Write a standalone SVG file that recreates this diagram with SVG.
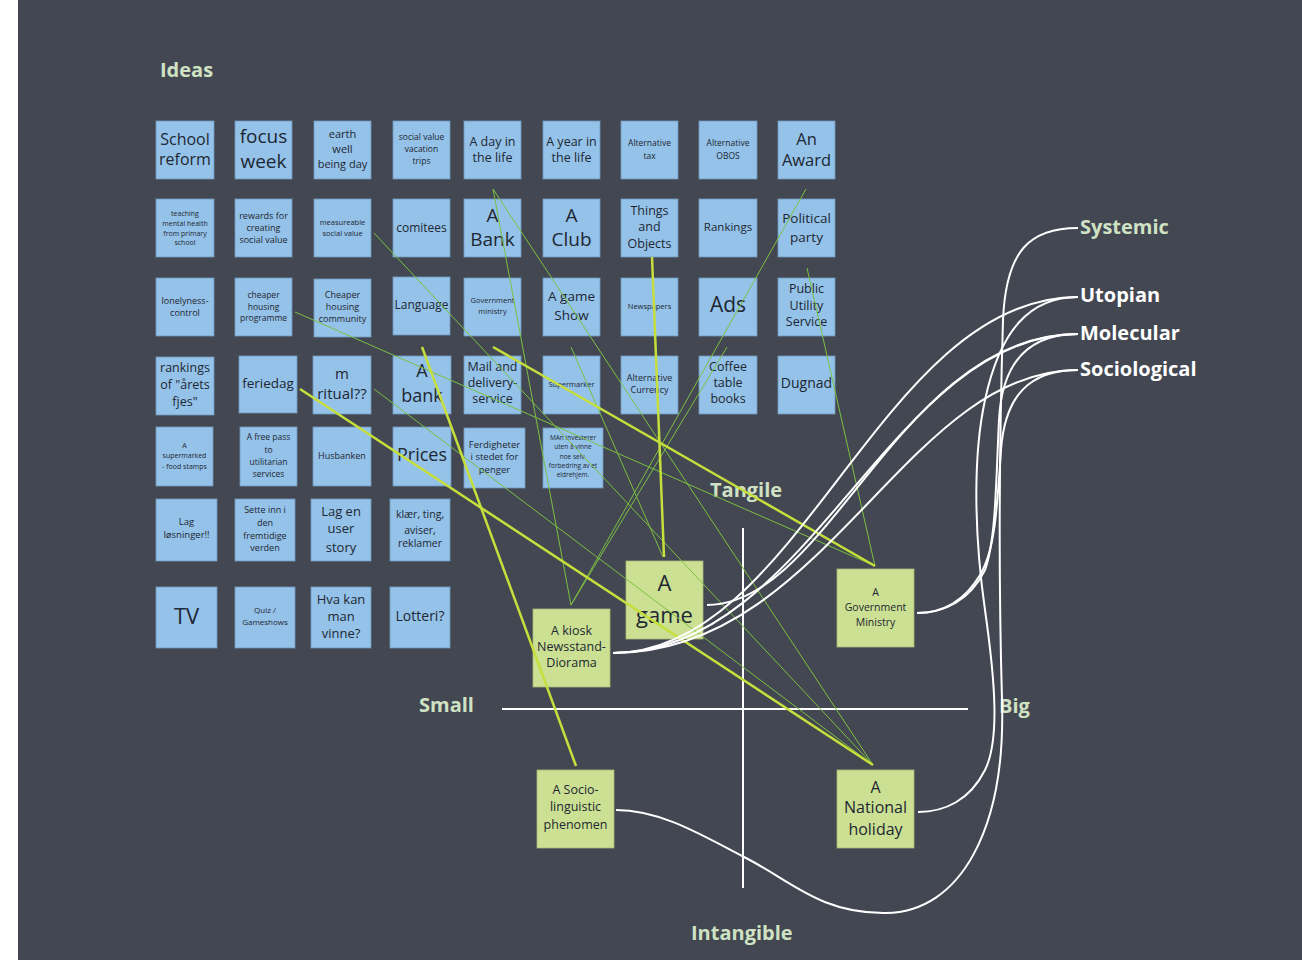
<svg xmlns="http://www.w3.org/2000/svg" width="1302" height="960" viewBox="0 0 1302 960">
  <style>
    .bg { fill: #434752; }
    .note rect { fill: #94c2e8; stroke: #7299bd; stroke-width: 0.8; }
    .gnote rect { fill: #cbe092; stroke: #a6b877; stroke-width: 0.8; }
    .note text, .gnote text { font-family: "Open Sans", "Noto Sans", "Liberation Sans", sans-serif; fill: #1e2733; text-anchor: middle; }
    .lbl { font-family: "Open Sans", "Noto Sans", "Liberation Sans", sans-serif; font-weight: 700; font-size: 20px; }
    .pale { fill: #cfe2c3; }
    .white { fill: #ffffff; }
    .thin { stroke: #7cc043; stroke-width: 1; fill: none; }
    .thick { stroke: #c6df3c; stroke-width: 2.5; fill: none; }
    .curve { stroke: #ffffff; stroke-width: 2; fill: none; }
    .axis { stroke: #ffffff; stroke-width: 2; }
  </style>

  <!-- canvas -->
  <rect x="0" y="0" width="1302" height="960" fill="#ffffff"/>
  <rect class="bg" x="18" y="0" width="1284" height="960"/>

  <!-- headings and axis labels -->
  <g id="labels">
    <text class="lbl pale" x="160" y="77">Ideas</text>
    <text class="lbl pale" x="710" y="497">Tangile</text>
    <text class="lbl pale" x="419" y="712">Small</text>
    <text class="lbl pale" x="999" y="713">Big</text>
    <text class="lbl pale" x="691" y="940">Intangible</text>
    <text class="lbl pale" x="1080" y="234">Systemic</text>
    <text class="lbl white" x="1080" y="302">Utopian</text>
    <text class="lbl white" x="1080" y="340">Molecular</text>
    <text class="lbl white" x="1080" y="376">Sociological</text>
  </g>

  <!-- quadrant axes -->
  <g id="axes">
    <line class="axis" x1="743" y1="528" x2="743" y2="888"/>
    <line class="axis" x1="502" y1="709" x2="968" y2="709"/>
  </g>

  <!-- row 1 -->
  <g id="school-reform" class="note"><rect x="156" y="121" width="58" height="58"/><text font-size="16"><tspan x="185" y="145">School</tspan><tspan x="185" y="165">reform</tspan></text></g>
  <g id="focus-week" class="note"><rect x="235" y="121" width="57" height="58"/><text font-size="19"><tspan x="263.5" y="143">focus</tspan><tspan x="263.5" y="168">week</tspan></text></g>
  <g id="earth-well-being-day" class="note"><rect x="314" y="121" width="57" height="58"/><text font-size="11"><tspan x="342.5" y="138">earth</tspan><tspan x="342.5" y="153">well</tspan><tspan x="342.5" y="168">being day</tspan></text></g>
  <g id="social-value-vacation" class="note"><rect x="393" y="121" width="57" height="58"/><text font-size="8.5"><tspan x="421.5" y="140">social value</tspan><tspan x="421.5" y="152">vacation</tspan><tspan x="421.5" y="164">trips</tspan></text></g>
  <g id="a-day-in-the-life" class="note"><rect x="464" y="121" width="57" height="58"/><text font-size="12.5"><tspan x="492.5" y="145.5">A day in</tspan><tspan x="492.5" y="161.5">the life</tspan></text></g>
  <g id="a-year-in-the-life" class="note"><rect x="543" y="121" width="57" height="58"/><text font-size="12.5"><tspan x="571.5" y="145.5">A year in</tspan><tspan x="571.5" y="161.5">the life</tspan></text></g>
  <g id="alternative-tax" class="note"><rect x="621" y="121" width="57" height="58"/><text font-size="8.5"><tspan x="649.5" y="146">Alternative</tspan><tspan x="649.5" y="159">tax</tspan></text></g>
  <g id="alternative-obos" class="note"><rect x="699" y="121" width="58" height="58"/><text font-size="8.5"><tspan x="728" y="146">Alternative</tspan><tspan x="728" y="159">OBOS</tspan></text></g>
  <g id="an-award" class="note"><rect x="778" y="121" width="57" height="58"/><text font-size="16.5"><tspan x="806.5" y="144.5">An</tspan><tspan x="806.5" y="165.5">Award</tspan></text></g>

  <!-- row 2 -->
  <g id="teaching-mental-health" class="note"><rect x="156" y="199" width="58" height="58"/><text font-size="7"><tspan x="185" y="215.5">teaching</tspan><tspan x="185" y="225.5">mental health</tspan><tspan x="185" y="235.5">from primary</tspan><tspan x="185" y="244.5">school</tspan></text></g>
  <g id="rewards-social-value" class="note"><rect x="235" y="199" width="57" height="58"/><text font-size="9"><tspan x="263.5" y="219">rewards for</tspan><tspan x="263.5" y="231">creating</tspan><tspan x="263.5" y="243">social value</tspan></text></g>
  <g id="measureable-social-value" class="note"><rect x="314" y="199" width="57" height="58"/><text font-size="7.5"><tspan x="342.5" y="224.6">measureable</tspan><tspan x="342.5" y="235.6">social value</tspan></text></g>
  <g id="comitees" class="note"><rect x="393" y="199" width="57" height="58"/><text font-size="12"><tspan x="421.5" y="232">comitees</tspan></text></g>
  <g id="a-bank-upper" class="note"><rect x="464" y="199" width="57" height="58"/><text font-size="19"><tspan x="492.5" y="221.6">A</tspan><tspan x="492.5" y="245.6">Bank</tspan></text></g>
  <g id="a-club" class="note"><rect x="543" y="199" width="57" height="58"/><text font-size="19"><tspan x="571.5" y="221.6">A</tspan><tspan x="571.5" y="245.6">Club</tspan></text></g>
  <g id="things-and-objects" class="note"><rect x="621" y="199" width="57" height="58"/><text font-size="12.5"><tspan x="649.5" y="215.4">Things</tspan><tspan x="649.5" y="231.4">and</tspan><tspan x="649.5" y="248.4">Objects</tspan></text></g>
  <g id="rankings" class="note"><rect x="699" y="199" width="58" height="58"/><text font-size="11.5"><tspan x="728" y="231">Rankings</tspan></text></g>
  <g id="political-party" class="note"><rect x="778" y="199" width="57" height="58"/><text font-size="13.5"><tspan x="806.5" y="222.7">Political</tspan><tspan x="806.5" y="241.7">party</tspan></text></g>

  <!-- row 3 -->
  <g id="lonelyness-control" class="note"><rect x="156" y="278" width="58" height="58"/><text font-size="9"><tspan x="185" y="304">lonelyness-</tspan><tspan x="185" y="316">control</tspan></text></g>
  <g id="cheaper-housing-programme" class="note"><rect x="235" y="278" width="57" height="58"/><text font-size="8.5"><tspan x="263.5" y="298">cheaper</tspan><tspan x="263.5" y="310">housing</tspan><tspan x="263.5" y="321">programme</tspan></text></g>
  <g id="cheaper-housing-community" class="note"><rect x="314" y="279" width="57" height="58"/><text font-size="9"><tspan x="342.5" y="298">Cheaper</tspan><tspan x="342.5" y="310">housing</tspan><tspan x="342.5" y="322">community</tspan></text></g>
  <g id="language" class="note"><rect x="393" y="277" width="57" height="58"/><text font-size="12"><tspan x="421.5" y="309">Language</tspan></text></g>
  <g id="government-ministry-idea" class="note"><rect x="464" y="278" width="57" height="58"/><text font-size="7.5"><tspan x="492.5" y="302.6">Government</tspan><tspan x="492.5" y="313.6">ministry</tspan></text></g>
  <g id="a-game-show" class="note"><rect x="543" y="278" width="57" height="58"/><text font-size="13.5"><tspan x="571.5" y="300.7">A game</tspan><tspan x="571.5" y="319.7">Show</tspan></text></g>
  <g id="newspapers" class="note"><rect x="621" y="278" width="57" height="58"/><text font-size="7.5"><tspan x="649.5" y="308.6">Newspapers</tspan></text></g>
  <g id="ads" class="note"><rect x="699" y="278" width="58" height="58"/><text font-size="21"><tspan x="728" y="312">Ads</tspan></text></g>
  <g id="public-utility-service" class="note"><rect x="778" y="278" width="57" height="58"/><text font-size="12.5"><tspan x="806.5" y="293.4">Public</tspan><tspan x="806.5" y="310.4">Utility</tspan><tspan x="806.5" y="326.4">Service</tspan></text></g>

  <!-- row 4 -->
  <g id="rankings-arets-fjes" class="note"><rect x="156" y="357" width="58" height="58"/><text font-size="12.5"><tspan x="185" y="372.4">rankings</tspan><tspan x="185" y="389.4">of "årets</tspan><tspan x="185" y="406.4">fjes"</tspan></text></g>
  <g id="feriedag" class="note"><rect x="239" y="356" width="58" height="57"/><text font-size="13.5"><tspan x="268" y="387.7">feriedag</tspan></text></g>
  <g id="m-ritual" class="note"><rect x="313" y="356" width="58" height="58"/><text font-size="15"><tspan x="342" y="379">m</tspan><tspan x="342" y="399">ritual??</tspan></text></g>
  <g id="a-bank-lower" class="note"><rect x="393" y="356" width="58" height="58"/><text font-size="18"><tspan x="422" y="377">A</tspan><tspan x="422" y="402">bank</tspan></text></g>
  <g id="mail-and-delivery" class="note"><rect x="464" y="356" width="57" height="58"/><text font-size="12.5"><tspan x="492.5" y="371.4">Mail and</tspan><tspan x="492.5" y="387.4">delivery-</tspan><tspan x="492.5" y="403.4">service</tspan></text></g>
  <g id="supermarker" class="note"><rect x="543" y="356" width="57" height="58"/><text font-size="7.5"><tspan x="571.5" y="386.6">Supermarker</tspan></text></g>
  <g id="alternative-currency" class="note"><rect x="621" y="356" width="57" height="58"/><text font-size="9"><tspan x="649.5" y="381">Alternative</tspan><tspan x="649.5" y="393">Currency</tspan></text></g>
  <g id="coffee-table-books" class="note"><rect x="699" y="356" width="58" height="58"/><text font-size="12.5"><tspan x="728" y="371.4">Coffee</tspan><tspan x="728" y="387.4">table</tspan><tspan x="728" y="403.4">books</tspan></text></g>
  <g id="dugnad" class="note"><rect x="778" y="356" width="57" height="58"/><text font-size="14"><tspan x="806.5" y="388">Dugnad</tspan></text></g>

  <!-- row 5 -->
  <g id="supermarked-food-stamps" class="note"><rect x="156" y="427" width="57" height="59"/><text font-size="7"><tspan x="184.5" y="447.5">A</tspan><tspan x="184.5" y="457.5">supermarked</tspan><tspan x="184.5" y="468.5">- food stamps</tspan></text></g>
  <g id="free-pass" class="note"><rect x="240" y="427" width="57" height="59"/><text font-size="8.5"><tspan x="268.5" y="440">A free pass</tspan><tspan x="268.5" y="453">to</tspan><tspan x="268.5" y="465">utilitarian</tspan><tspan x="268.5" y="477">services</tspan></text></g>
  <g id="husbanken" class="note"><rect x="313" y="427" width="58" height="59"/><text font-size="9"><tspan x="342" y="459">Husbanken</tspan></text></g>
  <g id="prices" class="note"><rect x="393" y="427" width="58" height="59"/><text font-size="18"><tspan x="422" y="461">Prices</tspan></text></g>
  <g id="ferdigheter" class="note"><rect x="464" y="428" width="61" height="60"/><text font-size="9.5"><tspan x="494.5" y="448.3">Ferdigheter</tspan><tspan x="494.5" y="460.3">i stedet for</tspan><tspan x="494.5" y="473.3">penger</tspan></text></g>
  <g id="man-investerer" class="note"><rect x="543" y="428" width="60" height="60"/><text font-size="6.5"><tspan x="573" y="440">MAn investerer</tspan><tspan x="573" y="449">uten å vinne</tspan><tspan x="573" y="459">noe selv.</tspan><tspan x="573" y="468">forbedring av et</tspan><tspan x="573" y="477">eldrehjem.</tspan></text></g>

  <!-- row 6 -->
  <g id="lag-losninger" class="note"><rect x="156" y="499" width="61" height="62"/><text font-size="9.5"><tspan x="186.5" y="525.3">Lag</tspan><tspan x="186.5" y="538.3">løsninger!!</tspan></text></g>
  <g id="sette-inn" class="note"><rect x="235" y="499" width="60" height="62"/><text font-size="9"><tspan x="265" y="513">Sette inn i</tspan><tspan x="265" y="526">den</tspan><tspan x="265" y="539">fremtidige</tspan><tspan x="265" y="551">verden</tspan></text></g>
  <g id="lag-en-user-story" class="note"><rect x="311" y="499" width="60" height="62"/><text font-size="13"><tspan x="341" y="515.5">Lag en</tspan><tspan x="341" y="532.5">user</tspan><tspan x="341" y="551.5">story</tspan></text></g>
  <g id="klaer-ting" class="note"><rect x="390" y="499" width="60" height="62"/><text font-size="10.5"><tspan x="420" y="517.7">klær, ting,</tspan><tspan x="420" y="533.7">aviser,</tspan><tspan x="420" y="546.7">reklamer</tspan></text></g>

  <!-- row 7 -->
  <g id="tv" class="note"><rect x="156" y="587" width="61" height="61"/><text font-size="22"><tspan x="186.5" y="623.7">TV</tspan></text></g>
  <g id="quiz-gameshows" class="note"><rect x="235" y="587" width="60" height="61"/><text font-size="8"><tspan x="265" y="612.8">Quiz /</tspan><tspan x="265" y="624.8">Gameshows</tspan></text></g>
  <g id="hva-kan-man-vinne" class="note"><rect x="311" y="587" width="60" height="61"/><text font-size="13"><tspan x="341" y="603.5">Hva kan</tspan><tspan x="341" y="620.5">man</tspan><tspan x="341" y="637.5">vinne?</tspan></text></g>
  <g id="lotteri" class="note"><rect x="390" y="587" width="60" height="61"/><text font-size="14"><tspan x="420" y="621">Lotteri?</tspan></text></g>

  <!-- categories placed on the quadrant -->
  <g id="a-game" class="gnote"><rect x="626" y="561" width="77" height="78"/><text font-size="22"><tspan x="664.5" y="590.7">A</tspan><tspan x="664.5" y="622.7">game</tspan></text></g>
  <g id="a-kiosk" class="gnote"><rect x="533" y="609" width="77" height="78"/><text font-size="12.5"><tspan x="571.5" y="635.4">A kiosk</tspan><tspan x="571.5" y="651.4">Newsstand-</tspan><tspan x="571.5" y="667.4">Diorama</tspan></text></g>
  <g id="a-government-ministry" class="gnote"><rect x="837" y="569" width="77" height="78"/><text font-size="10.5"><tspan x="875.5" y="595.7">A</tspan><tspan x="875.5" y="610.7">Government</tspan><tspan x="875.5" y="625.7">Ministry</tspan></text></g>
  <g id="a-socio-linguistic" class="gnote"><rect x="537" y="770" width="77" height="78"/><text font-size="12.5"><tspan x="575.5" y="794.4">A Socio-</tspan><tspan x="575.5" y="811.4">linguistic</tspan><tspan x="575.5" y="829.4">phenomen</tspan></text></g>
  <g id="a-national-holiday" class="gnote"><rect x="837" y="770" width="77" height="78"/><text font-size="16"><tspan x="875.5" y="792.6">A</tspan><tspan x="875.5" y="812.6">National</tspan><tspan x="875.5" y="834.6">holiday</tspan></text></g>

  <!-- connectors -->
  <g id="connectors">
    <!-- idea to category links -->
    <line class="thin" x1="374" y1="233" x2="873" y2="765"/>
    <line class="thin" x1="295" y1="312" x2="875" y2="566"/>
    <line class="thin" x1="374" y1="389" x2="873" y2="765"/>
    <line class="thin" x1="493" y1="189" x2="571" y2="605"/>
    <line class="thin" x1="493" y1="189" x2="873" y2="765"/>
    <line class="thin" x1="806" y1="189" x2="571" y2="605"/>
    <line class="thin" x1="727" y1="347" x2="571" y2="605"/>
    <line class="thin" x1="571" y1="347" x2="663" y2="557"/>
    <line class="thin" x1="807" y1="268" x2="875" y2="566"/>
    <line class="thick" x1="652" y1="257" x2="664" y2="557"/>
    <line class="thick" x1="422" y1="347" x2="576" y2="766"/>
    <line class="thick" x1="300" y1="389" x2="873" y2="765"/>
    <line class="thick" x1="493" y1="347" x2="875" y2="566"/>

    <!-- category to dimension links -->
    <path class="curve" d="M613,653 C800,653 880,297 1078,297"/>
    <path class="curve" d="M613,653 C810,653 890,334 1078,334"/>
    <path class="curve" d="M707,605 C830,605 900,334 1078,334"/>
    <path class="curve" d="M613,653 C825,653 905,370 1078,370"/>
    <path class="curve" d="M1078,228 C1030,228 1006,250 1003,320 C1000,420 998,560 1002,700 C1006,830 960,912 886,913 C820,914 790,880 744,857 C700,834 660,810 616,810"/>
    <path class="curve" d="M1078,297 C1030,297 1000,330 985,400 C972,460 975,540 985,610 C995,680 1000,740 985,770 C970,800 945,812 918,812"/>
    <path class="curve" d="M1078,334 C1030,334 1002,360 999,420 C996,480 996,540 985,570 C970,600 945,613 917,613"/>
    <path class="curve" d="M1078,370 C1030,370 1005,395 1001,450 C997,510 995,550 980,575 C965,600 945,613 917,613"/>
  </g>
</svg>
